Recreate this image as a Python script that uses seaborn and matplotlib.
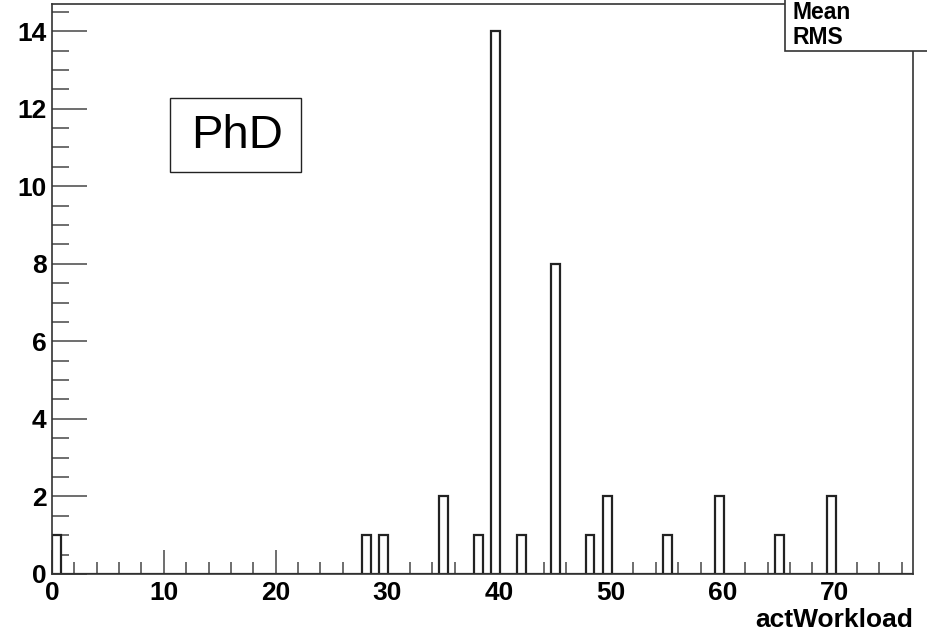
import matplotlib
matplotlib.use("Agg")
import matplotlib.pyplot as plt
import seaborn as sns
from matplotlib.patches import Rectangle
from matplotlib.ticker import MultipleLocator

# actWorkload values (integers) and how many entries each one has
workload = [0, 28, 30, 35, 38, 40, 42, 45, 48, 50, 55, 60, 65, 70]
counts = [1, 1, 1, 2, 1, 14, 1, 8, 1, 2, 1, 2, 1, 2]
x_lo, x_hi, n_bins = 0, 77, 100

sns.set_style("white")
plt.rcParams["font.family"] = ["Liberation Sans", "DejaVu Sans"]
plt.rcParams["text.color"] = "black"
plt.rcParams["xtick.color"] = "#555555"
plt.rcParams["ytick.color"] = "#555555"
plt.rcParams["xtick.labelcolor"] = "black"
plt.rcParams["ytick.labelcolor"] = "black"
plt.rcParams["axes.labelcolor"] = "black"

fig = plt.figure(figsize=(9.27, 6.32), dpi=100)
ax = fig.add_axes([0.0561, 0.0918, 0.9288, 0.9019])

sns.histplot(
    x=workload,
    weights=counts,
    bins=n_bins,
    binrange=(x_lo, x_hi),
    color="white",
    edgecolor="#222222",
    linewidth=1.6,
    alpha=1,
    ax=ax,
)

ax.set_xlim(x_lo, x_hi)
ax.set_ylim(0, 14.7)
ax.xaxis.set_major_locator(MultipleLocator(10))
ax.xaxis.set_minor_locator(MultipleLocator(2))
ax.yaxis.set_major_locator(MultipleLocator(2))
ax.yaxis.set_minor_locator(MultipleLocator(0.5))
ax.tick_params(axis="both", which="both", direction="in",
               bottom=True, left=True, top=False, right=False)
ax.tick_params(axis="x", which="major", length=17, width=1.2, pad=5)
ax.tick_params(axis="x", which="minor", length=9, width=1.2)
ax.tick_params(axis="y", which="major", length=25, width=1.2, pad=4)
ax.tick_params(axis="y", which="minor", length=12, width=1.2)
for lab in ax.get_xticklabels() + ax.get_yticklabels():
    lab.set_fontsize(19)
    lab.set_fontweight("bold")

for s in ax.spines.values():
    s.set_color("#333333")
    s.set_linewidth(1.2)

ax.set_ylabel("")
ax.set_xlabel("actWorkload", loc="right", fontsize=19, fontweight="bold",
              labelpad=2)

# title box
ax.add_patch(Rectangle((0.137, 0.705), 0.152, 0.130, transform=ax.transAxes,
                       facecolor="white", edgecolor="#222222", linewidth=1.0,
                       zorder=4))
ax.text(0.2154, 0.768, "PhD", transform=ax.transAxes, fontsize=34,
        ha="center", va="center", zorder=5)

# stats box in the corner
fig.patches.append(Rectangle((0.8463, 0.919), 0.2, 0.1, transform=fig.transFigure,
                             facecolor="white", edgecolor="#333333",
                             linewidth=1.2, zorder=5))
fig.text(0.855, 0.981, "Mean", fontsize=16.5, fontweight="bold",
         va="center", ha="left", zorder=6)
fig.text(0.855, 0.9405, "RMS", fontsize=16.5, fontweight="bold",
         va="center", ha="left", zorder=6)

fig.savefig("out.png", dpi=100)
